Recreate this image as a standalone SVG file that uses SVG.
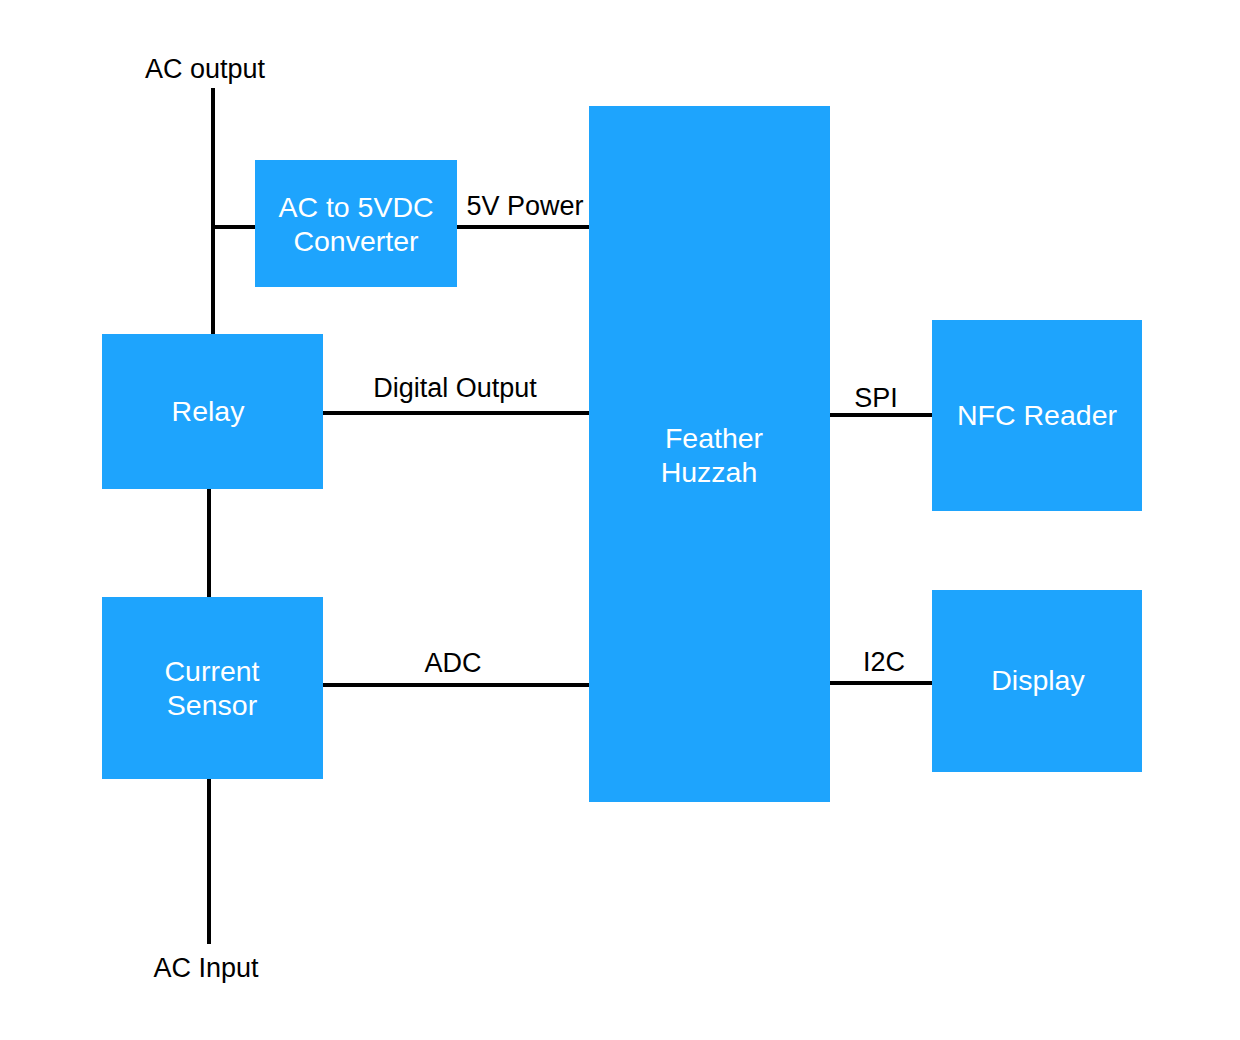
<svg xmlns="http://www.w3.org/2000/svg" width="1240" height="1040" viewBox="0 0 1240 1040">
<style>
.node{fill:#1ea4fd}
.nt{font-family:"Liberation Sans",Arial,sans-serif;font-size:28.5px;fill:#ffffff;text-anchor:middle}
.lt{font-family:"Liberation Sans",Arial,sans-serif;font-size:27px;fill:#000000;text-anchor:middle}
.wire{stroke:#000000;stroke-width:4;fill:none}
</style>
<rect width="1240" height="1040" fill="#ffffff"/>
<g id="connectors">
<line class="wire" x1="213" y1="88" x2="213" y2="334"/>
<line class="wire" x1="211" y1="227" x2="255" y2="227"/>
<line class="wire" x1="457" y1="227" x2="589" y2="227"/>
<line class="wire" x1="323" y1="413" x2="589" y2="413"/>
<line class="wire" x1="209" y1="489" x2="209" y2="597"/>
<line class="wire" x1="209" y1="779" x2="209" y2="944"/>
<line class="wire" x1="323" y1="685" x2="592" y2="685"/>
<line class="wire" x1="830" y1="415" x2="932" y2="415"/>
<line class="wire" x1="830" y1="683" x2="932" y2="683"/>
<text class="lt" x="205" y="78">AC output</text>
<text class="lt" x="525" y="215">5V Power</text>
<text class="lt" x="455" y="397">Digital Output</text>
<text class="lt" x="453" y="672">ADC</text>
<text class="lt" x="206" y="977">AC Input</text>
<text class="lt" x="876" y="407">SPI</text>
<text class="lt" x="884" y="671">I2C</text>
</g>
<g id="converter">
<rect class="node" x="255" y="160" width="202" height="127"/>
<text class="nt" x="356" y="217">AC to 5VDC</text>
<text class="nt" x="356" y="251">Converter</text>
</g>
<g id="relay">
<rect class="node" x="102" y="334" width="221" height="155"/>
<text class="nt" x="208" y="421">Relay</text>
</g>
<g id="current-sensor">
<rect class="node" x="102" y="597" width="221" height="182"/>
<text class="nt" x="212" y="681">Current</text>
<text class="nt" x="212" y="715">Sensor</text>
</g>
<g id="feather">
<rect class="node" x="589" y="106" width="241" height="696"/>
<text class="nt" x="714" y="448">Feather</text>
<text class="nt" x="709" y="482">Huzzah</text>
</g>
<g id="nfc">
<rect class="node" x="932" y="320" width="210" height="191"/>
<text class="nt" x="1037" y="425">NFC Reader</text>
</g>
<g id="display">
<rect class="node" x="932" y="590" width="210" height="182"/>
<text class="nt" x="1038" y="690">Display</text>
</g>
</svg>
